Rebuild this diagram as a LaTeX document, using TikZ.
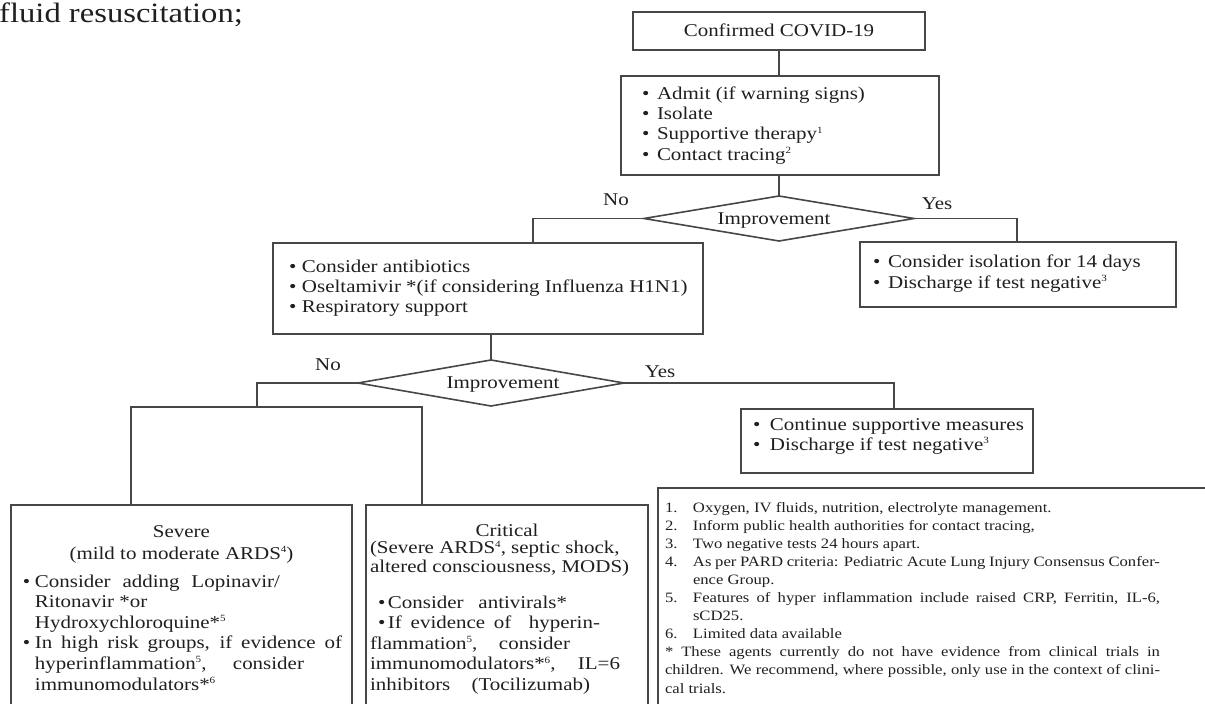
\documentclass[tikz,border=0pt]{standalone}
\usepackage{fontspec}
\setmainfont{Liberation Serif}[FakeStretch=1.165]
\usetikzlibrary{shapes.geometric}
\tikzset{
  ln/.style={draw=black!72, line width=1.6pt},
  boxn/.style={ln, rectangle, inner sep=0pt, outer sep=0pt, anchor=north west},
  dia/.style={ln, diamond, inner sep=0pt, outer sep=0pt},
  txt/.style={inner sep=0pt, outer sep=0pt, anchor=base west, align=left, text=black!88, font=\fontsize{18}{20.4}\selectfont},
  ctxt/.style={inner sep=0pt, outer sep=0pt, anchor=base, text=black!88, font=\fontsize{18}{20.4}\selectfont},
  note/.style={inner sep=0pt, outer sep=0pt, anchor=base west, align=left, text=black!88, font=\fontsize{14.3}{18.1}\selectfont}
}
\newcommand{\bul}[1]{\makebox[#1][l]{\textbullet}}
\newcommand{\sups}[1]{\raisebox{6.5pt}{\fontsize{9.5}{9.5}\selectfont #1}}
\begin{document}
\begin{tikzpicture}[x=1pt,y=-1pt]
\useasboundingbox (0,0) rectangle (1205,704);
\clip (0,0) rectangle (1205,704);

% stray text at top left
\node[inner sep=0pt, anchor=base west, text=black!88, font=\fontsize{28}{30}\selectfont] (frag) at (-1,22) {fluid resuscitation;};

% boxes
\node[boxn, minimum width=292pt, minimum height=38pt] (b1) at (633,12) {};
\node[boxn, minimum width=318pt, minimum height=99pt] (b2) at (621,76) {};
\node[dia, minimum width=270pt, minimum height=45pt] (d1) at (779,218.5) {};
\node[boxn, minimum width=430pt, minimum height=91pt] (b3) at (273,243) {};
\node[boxn, minimum width=316pt, minimum height=65pt] (b4) at (860,242) {};
\node[dia, minimum width=266pt, minimum height=46pt] (d2) at (491,383) {};
\node[boxn, minimum width=292pt, minimum height=64pt] (b6) at (741,409) {};
\node[boxn, minimum width=341pt, minimum height=230pt] (b5) at (11,505) {};
\node[boxn, minimum width=282pt, minimum height=230pt] (b7) at (366,505) {};
\node[boxn, minimum width=570pt, minimum height=240pt] (b8) at (658,488) {};

% connectors
\coordinate (c3) at (533,243);
\coordinate (c4) at (1017,242);
\coordinate (split) at (257,407);
\coordinate (cL) at (131,505);
\coordinate (cR) at (422,505);
\coordinate (c6) at (894,409);
\draw[ln] (b1.south -| d1.north) -- (b2.north -| d1.north);
\draw[ln] (b2.south -| d1.north) -- (d1.north);
\draw[ln] (d1.west) -| (c3);
\draw[ln] (d1.east) -| (c4);
\draw[ln] (b3.south -| d2.north) -- (d2.north);
\draw[ln] (d2.west) -| (split);
\draw[ln] (cL) |- (split) -| (cR);
\draw[ln] (d2.east) -| (c6);

% texts (multi-line nodes are anchored at the baseline of their last line)
\node[ctxt] (t1) at (779,36) {Confirmed COVID-19};
\node[txt] (t2) at (642,160.2) {\bul{15pt}Admit (if warning signs)\\
\bul{15pt}Isolate\\
\bul{15pt}Supportive therapy\sups{1}\\
\bul{15pt}Contact tracing\sups{2}};
\node[ctxt] (q1) at (774,224) {Improvement};
\node[ctxt] (no1) at (616,205) {No};
\node[ctxt] (yes1) at (937,209) {Yes};
\node[txt] (t3) at (289,312.8) {\bul{13pt}Consider antibiotics\\
\bul{13pt}Oseltamivir *(if considering Influenza H1N1)\\
\bul{13pt}Respiratory support};
\node[txt, font=\fontsize{18}{21}\selectfont] (t4) at (873,288) {\bul{15pt}Consider isolation for 14 days\\
\bul{15pt}Discharge if test negative\sups{3}};
\node[ctxt] (q2) at (503,388) {Improvement};
\node[ctxt] (no2) at (328,370) {No};
\node[ctxt] (yes2) at (660,377) {Yes};
\node[txt, font=\fontsize{18}{20}\selectfont] (t6) at (753,450) {\bul{17pt}Continue supportive measures\\
\bul{17pt}Discharge if test negative\sups{3}};

\node[ctxt] (t5a) at (181.5,537) {Severe};
\node[ctxt] (t5b) at (181.5,559) {(mild to moderate ARDS\sups{4})};
\node[txt, font=\fontsize{18}{20.6}\selectfont] (t5) at (23,690) {\bul{12pt}\makebox[245pt][s]{Consider adding Lopinavir/}\\
\hspace*{12pt}Ritonavir *or\\
\hspace*{12pt}Hydroxychloroquine*\sups{5}\\
\bul{12pt}\makebox[307pt][s]{In high risk groups, if evidence of}\\
\hspace*{12pt}\makebox[269pt][s]{hyperinflammation\sups{5}, consider}\\
\hspace*{12pt}immunomodulators*\sups{6}};

\node[ctxt] (t7a) at (507,536) {Critical};
\node[txt, font=\fontsize{18}{18.5}\selectfont] (t7b) at (370,572) {(Severe ARDS\sups{4}, septic shock,\\
altered consciousness, MODS)};
\node[txt, font=\fontsize{18}{20.5}\selectfont] (t7) at (370,690) {\hspace*{8pt}\bul{10pt}\makebox[179pt][s]{Consider antivirals*}\\
\hspace*{8pt}\bul{10pt}\makebox[212pt][s]{If evidence of \ hyperin-}\\
\makebox[200pt][s]{flammation\sups{5}, consider}\\
\makebox[250pt][s]{immunomodulators*\sups{6}, IL=6}\\
\makebox[220pt][s]{inhibitors (Tocilizumab)}};

\node[note] (t8) at (665,693) {\makebox[28pt][l]{1.}Oxygen, IV fluids, nutrition, electrolyte management.\\
\makebox[28pt][l]{2.}Inform public health authorities for contact tracing,\\
\makebox[28pt][l]{3.}Two negative tests 24 hours apart.\\
\makebox[28pt][l]{4.}\makebox[467pt][s]{As per PARD criteria: Pediatric Acute Lung Injury Consensus Confer-}\\
\hspace*{28pt}ence Group.\\
\makebox[28pt][l]{5.}\makebox[467pt][s]{Features of hyper inflammation include raised CRP, Ferritin, IL-6,}\\
\hspace*{28pt}sCD25.\\
\makebox[28pt][l]{6.}Limited data available\\
\makebox[495pt][s]{* These agents currently do not have evidence from clinical trials in}\\
\makebox[495pt][s]{children. We recommend, where possible, only use in the context of clini-}\\
cal trials.};
\end{tikzpicture}
\end{document}
